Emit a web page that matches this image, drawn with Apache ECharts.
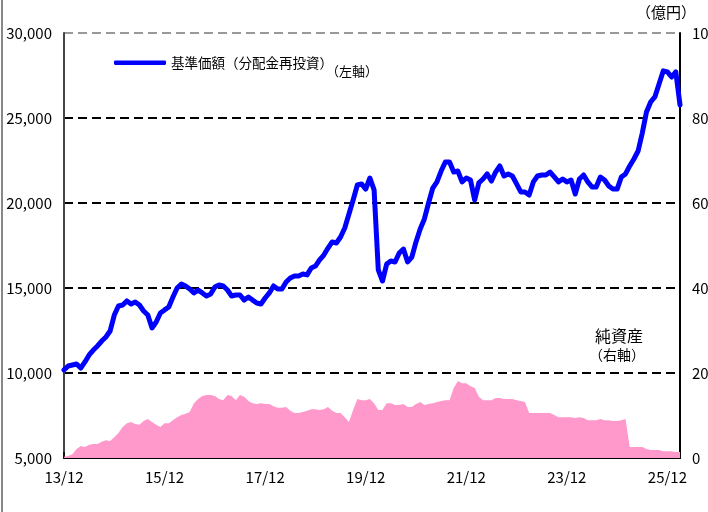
<!DOCTYPE html>
<html><head><meta charset="utf-8">
<script src="https://cdn.jsdelivr.net/npm/echarts@6/dist/echarts.min.js"></script>
<style>html,body{margin:0;padding:0;background:#fff;}#c{width:708px;height:512px;}</style>
</head><body><div id="c"></div>
<script>
// monthly categories from 2013/12 (148 months)
var startYear = 2013, startMonth = 12, monthCount = 148;
var categories = [];
for (var i = 0; i < monthCount; i++) {
  var mm = startMonth - 1 + i;
  var y = startYear + Math.floor(mm / 12), m = (mm % 12) + 1;
  categories.push(String(y).slice(2) + '/' + (m < 10 ? '0' + m : m));
}
var leftTicks = [5000, 10000, 15000, 20000, 25000, 30000];
var rightTicks = [0, 20, 40, 60, 80, 100];

// 基準価額（分配金再投資） 円, left axis
var navValues = [
  10180,10410,10470,10530,10290,10650,11060,11350,11590,11880,12120,12470,
  13410,13940,14000,14240,14060,14180,14000,13650,13410,12650,13000,13530,
  13710,13880,14470,15000,15240,15120,14940,14710,14880,14710,14530,14650,
  15060,15180,15120,14880,14530,14590,14590,14290,14470,14290,14120,14060,
  14410,14710,15120,14940,14940,15350,15590,15710,15710,15820,15770,16180,
  16290,16650,16940,17350,17710,17650,18000,18530,19350,20180,21060,21120,
  20820,21470,20770,16060,15410,16410,16590,16530,17060,17290,16530,16820,
  17710,18470,19060,20000,20880,21240,21880,22410,22410,21820,21880,21240,
  21470,21350,20180,21180,21410,21710,21290,21820,22180,21590,21710,21590,
  21120,20650,20650,20470,21240,21590,21650,21650,21820,21530,21240,21410,
  21240,21350,20530,21410,21650,21240,20940,20940,21530,21350,21000,20820,
  20820,21530,21710,22180,22590,23060,24120,25350,25940,26240,27000,27770,
  27710,27410,27710,25770
];
// 純資産 億円, right axis
var assetValues = [
  0.3,0.5,0.9,2.1,2.8,2.6,3.1,3.3,3.3,3.8,4.2,4.0,
  4.9,5.9,7.3,8.2,8.5,8.0,7.8,8.7,9.2,8.5,7.8,7.3,
  8.2,8.2,8.9,9.6,10.1,10.4,10.8,12.9,13.9,14.6,14.8,14.8,
  14.6,13.9,13.6,14.8,14.6,13.6,14.8,14.4,13.4,12.9,12.7,12.9,
  12.7,12.7,12.2,11.8,11.8,12.0,11.1,10.6,10.6,10.8,11.1,11.5,
  11.5,11.3,11.5,12.0,11.1,10.6,10.6,9.6,8.5,11.3,13.9,13.6,
  13.6,13.9,12.9,11.3,11.3,12.9,12.9,12.5,12.5,12.7,12.0,12.0,
  12.7,13.2,12.5,12.7,12.9,13.2,13.4,13.6,13.6,16.5,18.1,17.6,
  17.6,16.9,16.5,14.4,13.6,13.6,13.6,14.1,14.1,13.9,13.9,13.9,
  13.6,13.4,13.2,10.6,10.6,10.6,10.6,10.6,10.6,10.1,9.6,9.6,
  9.6,9.6,9.4,9.6,9.4,8.9,8.9,8.9,9.2,8.9,8.9,8.7,
  8.7,8.9,9.2,2.6,2.6,2.6,2.6,2.1,1.9,1.9,1.9,1.6,
  1.6,1.6,1.4,1.4
];

var FONT = '"Noto Sans CJK JP", "Liberation Sans", sans-serif';
var chart = echarts.init(document.getElementById('c'), null, {renderer: 'canvas'});
function everyTwoYears(idx) { return idx % 24 === 0; }
chart.setOption({
  animation: false,
  backgroundColor: '#fff',
  textStyle: {fontFamily: FONT},
  grid: {left: 64, right: 28, top: 33, bottom: 54, containLabel: false, outerBoundsMode: 'none'},
  legend: {
    data: ['基準価額（分配金再投資）'],
    left: 109, top: 51,
    icon: 'roundRect', itemWidth: 52, itemHeight: 4.5, itemGap: 6,
    textStyle: {fontSize: 13.5, color: '#000', fontFamily: FONT, padding: [0, 0, 0, 0]}
  },
  xAxis: {
    type: 'category', data: categories, boundaryGap: false,
    axisLine: {show: true, lineStyle: {color: '#000', width: 2}},
    axisTick: {show: true, inside: true, length: 6, interval: everyTwoYears, lineStyle: {color: '#000', width: 1.5}},
    axisLabel: {interval: everyTwoYears, margin: 12, fontSize: 15, color: '#000', fontFamily: FONT,
      hideOverlap: false},
    splitLine: {show: false}
  },
  yAxis: [{
    type: 'value', min: leftTicks[0], max: leftTicks[leftTicks.length - 1], interval: 5000,
    axisLine: {show: true, lineStyle: {color: '#444', width: 2}},
    axisTick: {show: false},
    axisLabel: {margin: 12, fontSize: 15, color: '#000', fontFamily: FONT,
      formatter: function (v) { return v.toString().replace(/\B(?=(\d{3})+(?!\d))/g, ','); }},
    splitLine: {show: true, lineStyle: {color: ['#000', '#000', '#000', '#000', '#000', '#999'], width: 2, type: [9, 5]}}
  }, {
    type: 'value', min: rightTicks[0], max: rightTicks[rightTicks.length - 1], interval: 20,
    position: 'right',
    axisLine: {show: true, lineStyle: {color: '#000', width: 2}},
    axisTick: {show: false},
    axisLabel: {margin: 12, fontSize: 15, color: '#000', fontFamily: FONT},
    splitLine: {show: false}
  }],
  series: [{
    name: '純資産', type: 'line', yAxisIndex: 1, data: assetValues,
    symbol: 'none', lineStyle: {width: 0}, itemStyle: {color: '#FF99CC'},
    areaStyle: {color: '#FF99CC', opacity: 1}, z: 1
  }, {
    name: '基準価額（分配金再投資）', type: 'line', yAxisIndex: 0, data: navValues,
    symbol: 'none', lineStyle: {width: 5, color: '#0000FF', join: 'round', cap: 'round'},
    itemStyle: {color: '#0000FF'}, z: 3
  }],
  graphic: [
    {type: 'line', shape: {x1: 2, y1: 0, x2: 2, y2: 512}, style: {stroke: '#888', lineWidth: 2}},
    {type: 'text', left: 636, top: 5, style: {text: '（億円）', font: '15px ' + FONT, fill: '#000'}},
    {type: 'text', left: 326, top: 65, style: {text: '（左軸）', font: '13px ' + FONT, fill: '#000'}},
    {type: 'text', left: 595, top: 328, style: {text: '純資産', font: '16px ' + FONT, fill: '#000'}},
    {type: 'text', left: 589, top: 348, style: {text: '（右軸）', font: '14px ' + FONT, fill: '#000'}}
  ]
});
</script>
</body></html>
